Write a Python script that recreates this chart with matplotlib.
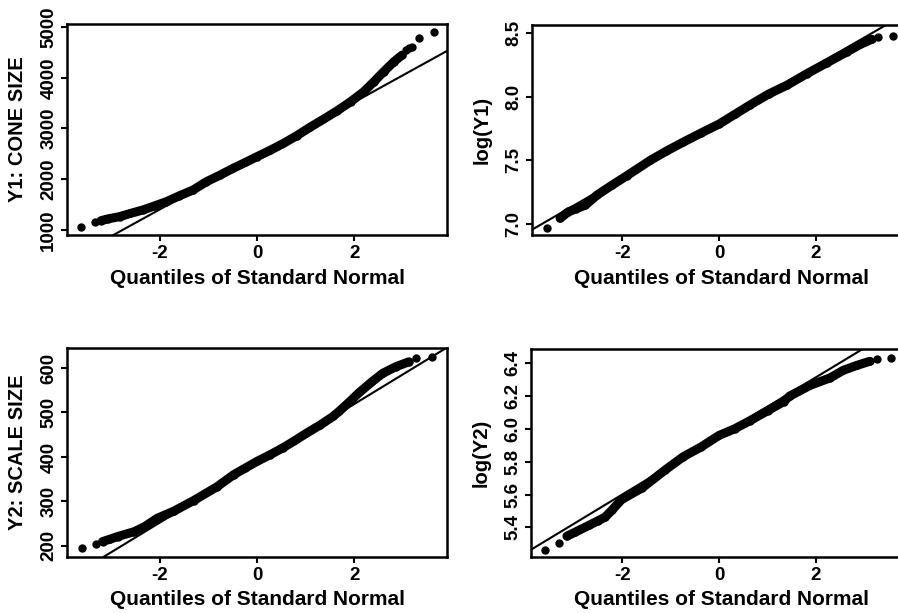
import numpy as np
import matplotlib.pyplot as plt

# ---------------- data ----------------
# theoretical quantiles (x) and ordered sample values (y)
q_cone = [-3.61, -3.32, -3.20, -3.05, -2.82, -2.60, -2.34, -2.10, -1.86, -1.60,
          -1.31, -1.04, -0.76, -0.49, -0.24, 0.00, 0.27, 0.54, 0.82, 1.09,
          1.36, 1.64, 1.92, 2.19, 2.40, 2.60, 2.81, 2.98, 3.06, 3.12, 3.18,
          3.33, 3.63]
y_cone = [1065, 1152, 1183, 1220, 1262, 1325, 1394, 1475, 1557, 1670,
          1788, 1950, 2080, 2215, 2330, 2444, 2570, 2705, 2860, 3025,
          3180, 3345, 3527, 3724, 3922, 4119, 4316, 4448, 4540, 4580, 4610,
          4788, 4906]

q_logcone = [-3.55, -3.28, -3.11, -2.95, -2.76, -2.52, -2.21, -1.90, -1.42, -1.10,
             -0.74, -0.37, 0.00, 0.32, 0.64, 1.02, 1.40, 1.81, 2.22, 2.63,
             2.91, 3.15, 3.28, 3.58]
y_logcone = [6.966, 7.045, 7.096, 7.120, 7.148, 7.227, 7.305, 7.380, 7.500, 7.570,
             7.643, 7.715, 7.785, 7.860, 7.935, 8.020, 8.090, 8.180, 8.265, 8.350,
             8.410, 8.450, 8.470, 8.475]

q_scale = [-3.60, -3.31, -3.17, -3.02, -2.86, -2.52, -2.31, -2.05, -1.71, -1.30,
           -0.82, -0.48, -0.24, 0.00, 0.27, 0.54, 0.78, 1.01, 1.30, 1.56,
           1.69, 1.90, 2.10, 2.37, 2.58, 2.85, 3.12, 3.27, 3.60]
y_scale = [195, 204.5, 209.7, 215, 221, 232, 243, 262, 278, 302,
           333, 360, 375, 390, 405, 421, 437, 453, 472, 491,
           503, 524, 545, 570, 588, 603, 614, 622, 625]

q_logscale = [-3.59, -3.30, -3.14, -2.97, -2.69, -2.50, -2.35, -2.21, -2.01, -1.59,
              -1.11, -0.74, -0.37, 0.00, 0.32, 0.64, 1.00, 1.33, 1.46, 1.88,
              2.29, 2.56, 2.84, 3.11, 3.25, 3.54]
y_logscale = [5.265, 5.306, 5.347, 5.371, 5.412, 5.440, 5.463, 5.505, 5.570, 5.640,
              5.750, 5.830, 5.890, 5.960, 6.000, 6.050, 6.110, 6.165, 6.200, 6.265,
              6.310, 6.356, 6.386, 6.411, 6.423, 6.434]

# reference lines (intercept, slope)
line_cone = (2462, 530)
line_logcone = (7.805, 0.220)
line_scale = (385.6, 66.8)
line_logscale = (5.957, 0.1785)

yticks_cone = [1000, 2000, 3000, 4000, 5000]
yticks_logcone = [7.0, 7.5, 8.0, 8.5]
yticks_scale = [200, 300, 400, 500, 600]
yticks_logscale = [5.4, 5.6, 5.8, 6.0, 6.2, 6.4]

# ---------------- drawing ----------------
plt.rcParams['font.family'] = ['Liberation Sans', 'DejaVu Sans']
plt.rcParams['font.weight'] = 'bold'
plt.rcParams['axes.unicode_minus'] = False

W, H = 898, 613
fig = plt.figure(figsize=(W / 100, H / 100), dpi=100)


def add_ax(left, top, right, bottom):
    return fig.add_axes([left / W, 1 - bottom / H, (right - left) / W, (bottom - top) / H])


def qq_panel(ax, q, y, line, yticks, fmt, ylabel, xlim, ylim, band):
    lo, hi = band
    # dense middle of the sample: overlapping dots form a solid band
    ax.plot(q[lo:hi], y[lo:hi], '-', color='black', lw=6.5, solid_capstyle='round')
    ax.plot(q, y, 'o', color='black', ms=5)
    ax.axline((0, line[0]), slope=line[1], color='black', lw=1.5)
    ax.set_xlim(*xlim)
    ax.set_ylim(*ylim)
    ax.set_xticks([-2, 0, 2])
    ax.set_xticklabels(['-2', '0', '2'], fontsize=13.5, fontweight='bold')
    ax.set_yticks(yticks)
    ax.set_yticklabels([fmt.format(t) for t in yticks], fontsize=13.5, fontweight='bold')
    for lab in ax.get_yticklabels():
        lab.set_rotation(90)
        lab.set_va('center')
        lab.set_ha('right')
    ax.tick_params(direction='out', length=4, width=1.5, pad=3)
    for sp in ax.spines.values():
        sp.set_linewidth(1.8)
    ax.text(0.5, -0.205, 'Quantiles of Standard Normal', transform=ax.transAxes,
            ha='center', va='center', fontsize=15, fontweight='bold')
    ax.text(-0.13, 0.5, ylabel, transform=ax.transAxes, rotation=90,
            ha='center', va='center', fontsize=14.5, fontweight='bold')


ax1 = add_ax(67, 24, 447, 235)
ax2 = add_ax(532, 25, 912, 235)
ax3 = add_ax(67, 348, 447, 557)
ax4 = add_ax(531, 349, 911, 557)

qq_panel(ax1, q_cone, y_cone, line_cone, yticks_cone, '{:.0f}', 'Y1: CONE SIZE',
         (-3.9, 3.9), (900, 5060), (2, 28))
qq_panel(ax2, q_logcone, y_logcone, line_logcone, yticks_logcone, '{:.1f}', 'log(Y1)',
         (-3.86, 3.98), (6.914, 8.5625), (1, 22))
qq_panel(ax3, q_scale, y_scale, line_scale, yticks_scale, '{:.0f}', 'Y2: SCALE SIZE',
         (-3.9, 3.9), (175, 645), (2, 27))
qq_panel(ax4, q_logscale, y_logscale, line_logscale, yticks_logscale, '{:.1f}', 'log(Y2)',
         (-3.88, 3.96), (5.22, 6.486), (2, 24))

fig.savefig('out.png', dpi=100)
